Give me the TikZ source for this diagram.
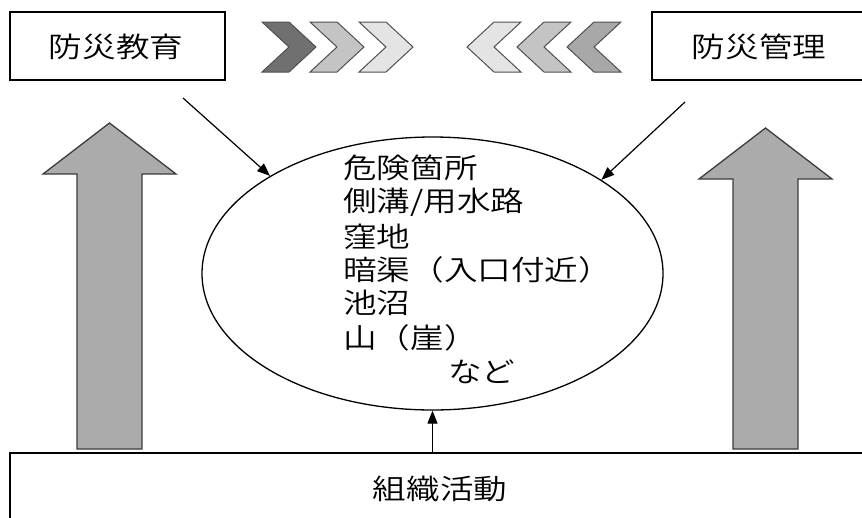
\documentclass[tikz,border=0pt]{standalone}
\usepackage{fontspec}
\newfontfamily\jp[FakeStretch=1.2]{Noto Sans CJK JP DemiLight}
\usetikzlibrary{shapes.geometric,arrows.meta}
\definecolor{chevA}{HTML}{707070}
\definecolor{chevB}{HTML}{C4C4C4}
\definecolor{chevC}{HTML}{E4E4E4}
\definecolor{chevD}{HTML}{A8A8A8}
\definecolor{chevEdge}{HTML}{505050}
\definecolor{bigFill}{HTML}{ABABAB}
\definecolor{bigEdge}{HTML}{3C3C3C}
\tikzset{
  jptext/.style={font=\jp\fontsize{28}{34}\selectfont, inner sep=0pt},
  topbox/.style={draw, line width=1.6pt, inner sep=0pt},
  chev/.style={draw=chevEdge, line width=1pt, line join=miter},
  bigarrow/.style={fill=bigFill, draw=bigEdge, line width=1.3pt},
  conn/.style={line width=1.2pt, -{Triangle[length=13pt,width=10pt]}}
}
\begin{document}
\begin{tikzpicture}[x=1pt,y=-1pt]
\useasboundingbox (0,0) rectangle (862,517);
\clip (0,0) rectangle (862,517);
% top boxes
\node[topbox, minimum width=215pt, minimum height=68pt] (edu) at (117.5,46) {};
\node[jptext] (edut) at (116,47) {防災教育};
\node[topbox, minimum width=220pt, minimum height=68pt] (mgmt) at (762,46) {};
\node[jptext] (mgmtt) at (759,47) {防災管理};
% chevrons pointing right
\foreach \x/\c in {262/chevA, 310/chevB, 359/chevC}{
  \draw[chev, fill=\c] (\x,22) -- (\x+27,22) -- (\x+54,47) -- (\x+27,72) -- (\x,72) -- (\x+27,47) -- cycle;
}
% chevrons pointing left
\foreach \x/\c in {467/chevC, 517/chevB, 567/chevD}{
  \draw[chev, fill=\c] (\x,47) -- (\x+27,22) -- (\x+54,22) -- (\x+27,47) -- (\x+54,72) -- (\x+27,72) -- cycle;
}
% big up arrows
\draw[bigarrow] (77,449) -- (77,174) -- (43,174) -- (109.5,123) -- (176,174) -- (142,174) -- (142,449) -- cycle;
\draw[bigarrow] (733,449) -- (733,179) -- (699,179) -- (765.5,128) -- (832,179) -- (798,179) -- (798,449) -- cycle;
% ellipse
\node[ellipse, draw, line width=1.3pt, minimum width=461pt, minimum height=273pt, inner sep=0pt] (risk) at (432.5,273.5) {};
\node[jptext, anchor=west] (l1) at (343,168) {危険箇所};
\node[jptext, anchor=west] (l2) at (343,202) {側溝/用水路};
\node[jptext, anchor=west] (l3) at (343,237) {窪地};
\node[jptext, anchor=west] (l4) at (343,270) {暗渠（入口付近）};
\node[jptext, anchor=west] (l5) at (343,303) {池沼};
\node[jptext, anchor=west] (l6) at (343,338) {山（崖）};
\node[jptext, anchor=west] (l7) at (448,372) {など};
% bottom box
\node[draw, line width=1.6pt, minimum width=870pt, minimum height=90pt, inner sep=0pt] (org) at (445,498) {};
\node[jptext] (orgt) at (440,489) {組織活動};
% connectors
\coordinate (s1) at (183,98);
\coordinate (s2) at (685,102);
\draw[conn] (s1) -- (risk.149);
\draw[conn] (s2) -- (risk.29);
\draw[conn] (risk.south |- org.north) -- (risk.south);
\end{tikzpicture}
\end{document}
